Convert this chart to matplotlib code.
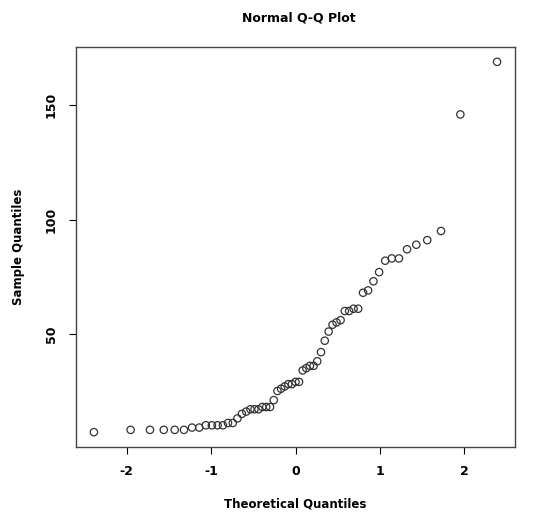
import matplotlib
matplotlib.use("Agg")
import matplotlib.pyplot as plt
from statistics import NormalDist

sample = [7, 8, 8, 8, 8, 8, 9, 9, 10, 10, 10, 10, 11, 11, 13, 15, 16, 17, 17, 17,
          18, 18, 18, 21, 25, 26, 27, 28, 28, 29, 29, 34, 35, 36, 36, 38, 42, 47,
          51, 54, 55, 56, 60, 60, 61, 61, 68, 69, 73, 77, 82, 83, 83, 87, 89, 91,
          95, 146, 169]
xticks = [-2, -1, 0, 1, 2]
yticks = [50, 100, 150]

n = len(sample)
nd = NormalDist()
a = 3/8 if n <= 10 else 0.5
theo = [nd.inv_cdf((i + 1 - a) / (n + 1 - 2 * a)) for i in range(n)]

fig = plt.figure(figsize=(5.43, 5.19), dpi=100)
ax = fig.add_axes([76/543, 1 - 447/519, (515-76)/543, (447-47)/519])
ax.scatter(theo, sorted(sample), s=28, facecolors='none', edgecolors='#333333', linewidths=0.9)
ax.set_xlim(-2.6, 2.6)
ax.set_ylim(0.5, 175.5)
ax.set_xticks(xticks)
ax.set_xticklabels([str(t) for t in xticks], fontsize=9, fontweight='bold')
ax.set_yticks(yticks)
ax.set_yticklabels([str(t) for t in yticks], fontsize=9, fontweight='bold', rotation=90, va='center')
ax.tick_params(length=5, width=0.8, pad=8)
for s in ax.spines.values():
    s.set_linewidth(1.0)
    s.set_color('#444444')
ax.set_xlabel('Theoretical Quantiles', fontsize=8.5, fontweight='bold', labelpad=14)
ax.set_ylabel('Sample Quantiles', fontsize=8.5, fontweight='bold', labelpad=14)
fig.text(0.55, 1 - 18/519, 'Normal Q-Q Plot', ha='center', va='center', fontsize=9, fontweight='bold')
fig.savefig('out.png', dpi=100)
